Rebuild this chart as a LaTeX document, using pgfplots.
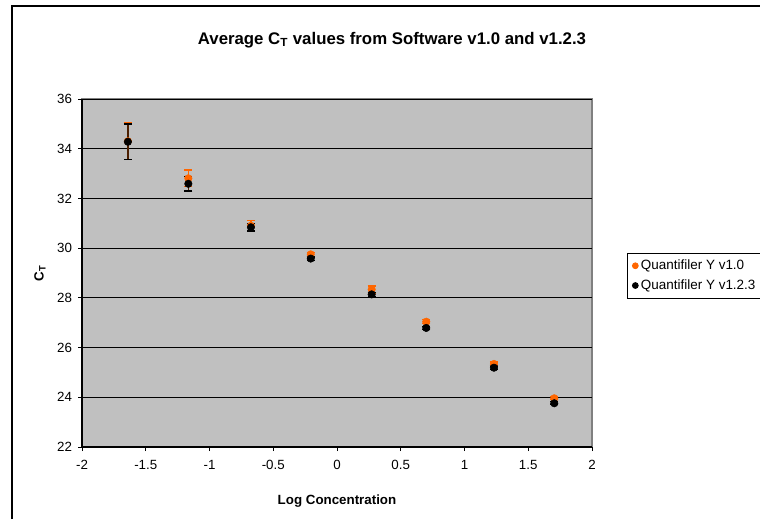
\documentclass[border=0pt]{standalone}
\usepackage{pgfplots}
\pgfplotsset{compat=1.18}
\usepackage{fontspec}
\setmainfont{Liberation Sans}
\definecolor{plotgray}{RGB}{192,192,192}
\definecolor{framegray}{RGB}{128,128,128}
\definecolor{qorange}{RGB}{255,102,0}
\begin{document}
\begin{tikzpicture}
% canvas 760x519 px, 1 px = 0.75pt, origin bottom left
\path[use as bounding box] (0pt,0pt) rectangle (570pt,389.25pt);
\draw[black,line width=0.9pt] (9pt,0pt) -- (9pt,384.75pt) -- (570pt,384.75pt);
\begin{axis}[
    at={(61.5pt,54pt)}, anchor=south west,
    scale only axis,
    width=382.5pt, height=261pt,
    xmin=-2, xmax=2, ymin=22, ymax=36,
    xtick={-2,-1.5,...,2},
    ytick={22,24,...,36},
    axis lines*=left,
    axis line style={black, line width=0.8pt},
    axis background/.style={fill=plotgray, draw=framegray, line width=0.8pt},
    tick align=outside,
    major tick length=3pt,
    tick style={black, line width=0.6pt},
    ymajorgrids,
    grid style={black, line width=0.7pt},
    /pgf/number format/assume math mode=true,
    ticklabel style={font=\fontsize{10}{12}\selectfont},
    xticklabel style={yshift=-3.5pt},
    yticklabel style={xshift=-1pt},
    legend style={at={(rel axis cs:1.068,0.558)}, anchor=north west,
        draw=black, line width=0.6pt, fill=white,
        font=\fontsize{10.1}{12}\selectfont, row sep=2pt,
        inner xsep=4pt, inner ysep=3pt},
    legend image code/.code={\draw[mark size=2.2pt] plot coordinates {(0.2cm,0cm)};},
    legend cell align=left,
    clip=false,
]
\addplot[only marks, mark=*, mark size=2.8pt, color=qorange, mark options={fill=qorange, draw=qorange},
    error bars/.cd, y dir=both, y explicit,
    error bar style={qorange, line width=1pt},
    error mark options={qorange, rotate=90, mark size=3pt, line width=1pt}]
table[x=x, y=y, y error=e] {
x      y      e
-1.640 34.30  0.73
-1.166 32.81  0.33
-0.675 30.90  0.20
-0.206 29.75  0.08
 0.272 28.34  0.14
 0.700 27.04  0.08
 1.231 25.34  0.08
 1.704 23.96  0.06
};
\addlegendentry{Quantifiler Y v1.0}
\addplot[only marks, mark=*, mark size=2.8pt, color=black, mark options={fill=black, draw=black},
    error bars/.cd, y dir=both, y explicit,
    error bar style={black!70!qorange, line width=1pt},
    error mark options={black, rotate=90, mark size=3pt, line width=1pt}]
table[x=x, y=y, y error=e] {
x      y      e
-1.640 34.28  0.72
-1.166 32.59  0.29
-0.675 30.84  0.15
-0.206 29.58  0.07
 0.272 28.14  0.08
 0.700 26.79  0.07
 1.231 25.19  0.07
 1.704 23.76  0.06
};
\addlegendentry{Quantifiler Y v1.2.3}
\end{axis}
\node[font=\bfseries\fontsize{12.6}{14}\selectfont] at (294pt,359.25pt) {Average C\textsubscript{T} values from Software v1.0 and v1.2.3};
\node[font=\bfseries\fontsize{10}{12}\selectfont] at (252.75pt,13.5pt) {Log Concentration};
\node[font=\bfseries\fontsize{10}{12}\selectfont, rotate=90] at (30pt,184.5pt) {C\textsubscript{T}};
\end{tikzpicture}
\end{document}
